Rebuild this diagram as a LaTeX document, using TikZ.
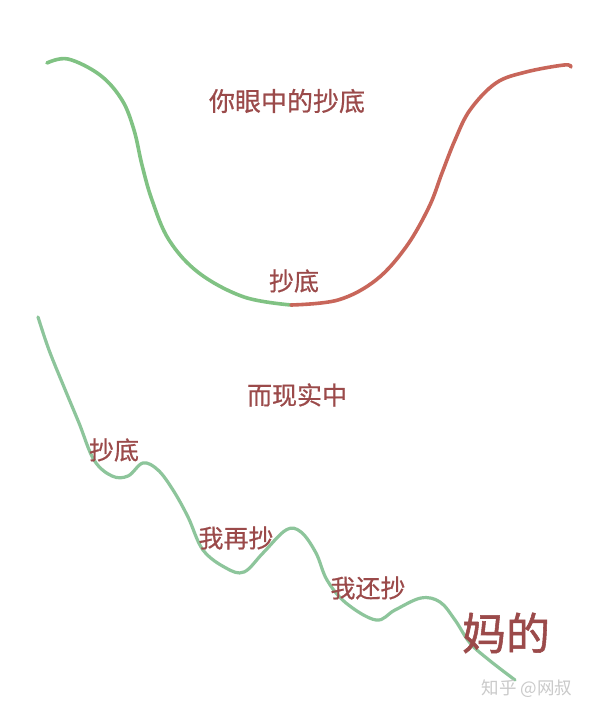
\documentclass[tikz,border=0pt]{standalone}
\usepackage{fontspec}
\newfontfamily\cjk[FakeBold=0.6]{Noto Sans CJK SC}
\newfontfamily\cjkbig[FakeBold=1.2]{Noto Sans CJK SC}
\newfontfamily\cjkwm{Noto Sans CJK SC}
\definecolor{txtred}{HTML}{9B4A4A}
\definecolor{curvered}{HTML}{C8665A}
\definecolor{curvegreen}{HTML}{80C283}
\definecolor{curvegreenb}{HTML}{8DC59B}
\definecolor{wmgray}{HTML}{CACACA}
\begin{document}
\begin{tikzpicture}[x=1pt,y=-1pt,
  lbl/.style={font=\cjk\fontsize{25}{25}\selectfont, text=txtred, inner sep=0pt},
  toplbl/.style={font=\cjk\fontsize{26}{26}\selectfont, text=txtred, inner sep=0pt},
  biglbl/.style={font=\cjkbig\fontsize{44}{44}\selectfont, text=txtred, inner sep=0pt},
  wm/.style={font=\cjkwm\fontsize{17.5}{17.5}\selectfont, text=wmgray, inner sep=0pt},
  gline/.style={curvegreen, line width=3.6pt, line cap=round},
  rline/.style={curvered, line width=3.6pt, line cap=round},
  bline/.style={curvegreenb, line width=3.2pt, line cap=round}]
\useasboundingbox (0,0) rectangle (589,715);
\fill[white] (0,0) rectangle (589,715);
% top curve
\draw[gline] plot[smooth, tension=0.6] coordinates {(47,63) (68,59) (100,75) (122,100) (134,130) (142,165) (152,200) (169,240) (199,273) (244,297) (291,305)};
\draw[rline] plot[smooth, tension=0.6] coordinates {(291,305) (338,300) (376,280) (406,247) (429,207) (442,173) (455,140) (470,110) (496,83) (526,72) (564,65) (571,67)};
% bottom curve
\draw[bline] plot[smooth, tension=0.6] coordinates {(38,317) (49,350) (64,387) (79,423) (94,460) (112,476) (128,476) (143,463) (158,470) (173,490) (188,517) (203,550) (226,568) (244,572) (263,553) (286,530) (301,532) (316,553) (327,580) (346,603) (376,620) (395,610) (421,598) (440,602) (455,620) (470,643) (489,660) (515,680)};
% labels
\node[toplbl] (t1) at (287,101) {你眼中的抄底};
\node[lbl] (t2) at (294,281) {抄底};
\node[lbl] (t3) at (297,395) {而现实中};
\node[lbl] (t4) at (114,450) {抄底};
\node[lbl] (t5) at (236,538) {我再抄};
\node[lbl] (t6) at (368,588) {我还抄};
\node[biglbl] (t7) at (506,633) {妈的};
\node[wm] (w) at (527,689) {知乎 @网叔};
\end{tikzpicture}
\end{document}
